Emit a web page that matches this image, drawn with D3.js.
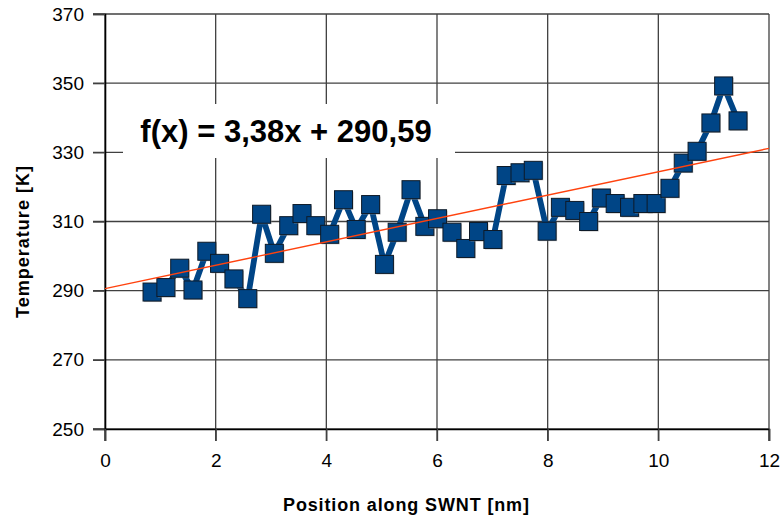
<!DOCTYPE html>
<html>
<head>
<meta charset="utf-8">
<script src="https://cdn.jsdelivr.net/npm/d3@7/dist/d3.min.js"></script>
<style>
  html, body { margin: 0; padding: 0; background: #fff; }
  svg { display: block; font-family: "Liberation Sans", Arial, sans-serif; }
</style>
</head>
<body>
<svg id="chart" width="783" height="520"></svg>
<script>
// Measured temperature along the nanotube
const positions = [0.85, 1.10, 1.35, 1.59, 1.84, 2.07, 2.33, 2.58, 2.83, 3.06,
  3.32, 3.56, 3.81, 4.06, 4.31, 4.54, 4.80, 5.05, 5.28, 5.53,
  5.78, 6.01, 6.27, 6.52, 6.75, 7.01, 7.25, 7.50, 7.74, 7.99,
  8.23, 8.49, 8.74, 8.97, 9.22, 9.48, 9.72, 9.96, 10.21, 10.45,
  10.70, 10.95, 11.18, 11.44];
const temperatures = [289.6, 290.9, 296.5, 290.2, 301.4, 297.9, 293.4, 287.7, 312.1, 300.8,
  308.8, 312.3, 308.8, 306.3, 316.3, 307.7, 314.9, 297.6, 306.9, 319.2,
  308.6, 310.8, 306.9, 302.2, 307.1, 304.8, 323.3, 324.1, 324.8, 307.2,
  314.1, 313.2, 310.0, 316.8, 315.2, 314.1, 315.2, 315.2, 319.6, 326.9,
  330.3, 338.5, 349.2, 339.1];

// Linear fit: f(x) = slope * x + intercept
const fitSlope = 3.38;
const fitIntercept = 290.59;
const fitLabel = "f(x) = 3,38x + 290,59";

const xTicks = [0, 2, 4, 6, 8, 10, 12];
const yTicks = [250, 270, 290, 310, 330, 350, 370];
const xTitle = "Position along SWNT [nm]";
const yTitle = "Temperature [K]";

const svg = d3.select("#chart");
const plotL = 105, plotR = 769, plotT = 14, plotB = 429;
const font = "'Liberation Sans', Arial, sans-serif";

const x = d3.scaleLinear().domain([0, 12]).range([plotL, plotR]);
const y = d3.scaleLinear().domain([250, 370]).range([plotB, plotT]);

// Grid lines, extending a little outside the plot as tick marks
const grid = svg.append("g").attr("stroke", "#404040").attr("stroke-width", 1.3);
grid.selectAll("line.h").data(yTicks).join("line")
  .attr("x1", plotL - 12).attr("x2", plotR)
  .attr("y1", d => y(d)).attr("y2", d => y(d));
grid.selectAll("line.v").data(xTicks).join("line")
  .attr("y1", plotT).attr("y2", plotB + 12)
  .attr("x1", d => x(d)).attr("x2", d => x(d));

// Axes
const yAxis = d3.axisLeft(y).tickValues(yTicks).tickSize(12).tickPadding(9);
const xAxis = d3.axisBottom(x).tickValues(xTicks).tickSize(12).tickPadding(13);
const gy = svg.append("g").attr("transform", `translate(${plotL},0)`).call(yAxis);
const gx = svg.append("g").attr("transform", `translate(0,${plotB})`).call(xAxis);
[gx, gy].forEach(g => {
  g.select(".domain").attr("stroke", "#000").attr("stroke-width", 1.6);
  g.selectAll(".tick line").attr("stroke", "#404040").attr("stroke-width", 1.3);
  g.selectAll(".tick text").attr("font-family", font).attr("font-size", 19).attr("fill", "#000");
});

// Equation label with white background
svg.append("rect").attr("x", 123).attr("y", 104).attr("width", 332).attr("height", 54).attr("fill", "#fff");
svg.append("text").attr("x", 286).attr("y", 142).attr("text-anchor", "middle")
  .attr("font-family", font).attr("font-weight", "bold").attr("font-size", 31)
  .text(fitLabel);

// Data line
const pts = positions.map((p, i) => [p, temperatures[i]]);
svg.append("path").datum(pts)
  .attr("fill", "none").attr("stroke", "#004586").attr("stroke-width", 5.8)
  .attr("stroke-linejoin", "miter")
  .attr("d", d3.line().x(d => x(d[0])).y(d => y(d[1])));

// Square markers
const s = 18;
const mk = svg.append("g");
pts.forEach(d => {
  mk.append("rect").attr("x", x(d[0]) - s / 2 + 1).attr("y", y(d[1]) - s / 2 + 1)
    .attr("width", s).attr("height", s).attr("fill", "#9a9a9a").attr("opacity", 0.6);
  mk.append("rect").attr("x", x(d[0]) - s / 2).attr("y", y(d[1]) - s / 2)
    .attr("width", s).attr("height", s)
    .attr("fill", "#004586").attr("stroke", "#0d1a28").attr("stroke-width", 1);
});

// Trend line
svg.append("line")
  .attr("x1", x(0)).attr("y1", y(fitIntercept))
  .attr("x2", x(12)).attr("y2", y(fitSlope * 12 + fitIntercept))
  .attr("stroke", "#ff420e").attr("stroke-width", 1.4);

// Axis titles
svg.append("text").attr("x", 406).attr("y", 511).attr("text-anchor", "middle")
  .attr("font-family", font).attr("font-weight", "bold").attr("font-size", 18)
  .attr("textLength", 246).attr("lengthAdjust", "spacing")
  .text(xTitle);
svg.append("text").attr("transform", "translate(29,242) rotate(-90)").attr("text-anchor", "middle")
  .attr("font-family", font).attr("font-weight", "bold").attr("font-size", 18)
  .attr("textLength", 152).attr("lengthAdjust", "spacing")
  .text(yTitle);
</script>
</body>
</html>
